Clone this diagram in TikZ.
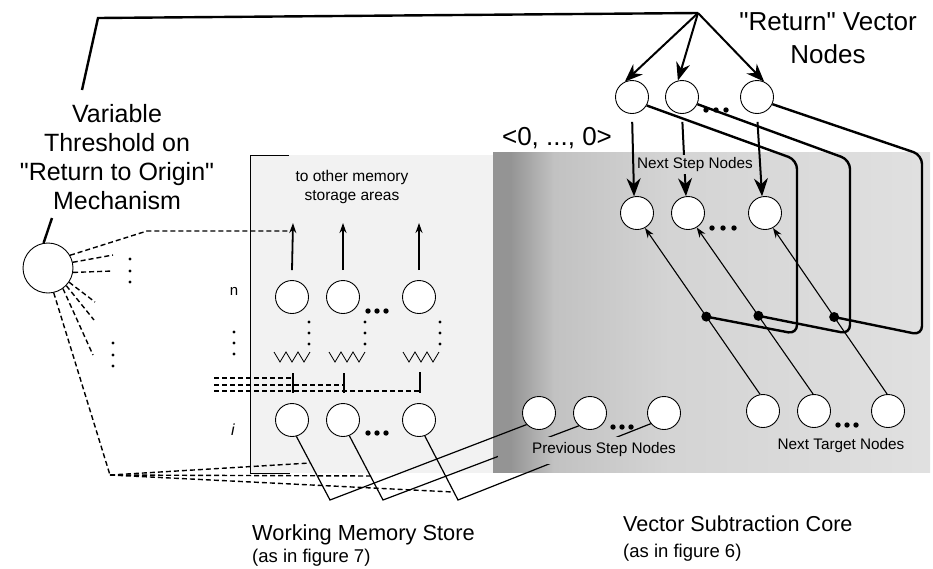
\documentclass[tikz,border=0pt]{standalone}
\usepackage{fontspec}
\setmainfont{Liberation Sans}[Ligatures=TeXOff]
\usetikzlibrary{arrows.meta}
\definecolor{shA}{gray}{0.58}
\definecolor{shB}{gray}{0.76}
\definecolor{shC}{gray}{0.83}
\definecolor{shD}{gray}{0.88}
\pgfdeclarehorizontalshading{core}{100bp}{color(0bp)=(shA); color(25bp)=(shA); color(27bp)=(shA); color(32bp)=(shB); color(45bp)=(shC); color(75bp)=(shD); color(100bp)=(shD)}
\begin{document}
\begin{tikzpicture}[x=1pt,y=-1pt,
  nd/.style={circle,draw,fill=white,line width=0.9pt,minimum size=33pt,inner sep=0pt},
  bigdot/.style={circle,fill=black,minimum size=10pt,inner sep=0pt},
  thickln/.style={line width=2.4pt},
  wire/.style={line width=1.2pt},
  bigarr/.style={line width=2pt,-{Stealth[length=18pt,width=14pt]}},
  uparr/.style={line width=1.8pt,-{Stealth[length=10pt,width=7pt]}},
  thinarr/.style={line width=1.1pt,-{Stealth[length=10pt,width=7pt]}},
  dsh/.style={line width=1.4pt,dash pattern=on 5pt off 3pt},
  lbl/.style={font=\fontsize{15.3}{18}\selectfont,inner sep=0pt},
]
\useasboundingbox (0,0) rectangle (933,568);
\fill[white] (0,0) rectangle (933,568);

% backgrounds
\fill[black!5] (250,155) rectangle (493,473);
\shade[shading=core] (493,152) rectangle (930,472);
\draw[line width=1pt] (289,155) -- (250,155) -- (250,473) -- (290,473);

% nodes
\node[nd,minimum size=50pt] (th) at (48,268) {};
\node[nd] (r1) at (632,97) {};
\node[nd] (r2) at (682,97) {};
\node[nd] (r3) at (757,97) {};
\node[nd] (s1) at (637,213) {};
\node[nd] (s2) at (688,213) {};
\node[nd] (s3) at (765,213) {};
\node[nd] (p1) at (539,413) {};
\node[nd] (p2) at (590,413) {};
\node[nd] (p3) at (664,413) {};
\node[nd] (t1) at (763,411) {};
\node[nd] (t2) at (814,411) {};
\node[nd] (t3) at (888,411) {};
\node[nd] (n1) at (292,297) {};
\node[nd] (n2) at (343,297) {};
\node[nd] (n3) at (419,297) {};
\node[nd] (i1) at (292,420) {};
\node[nd] (i2) at (343,420) {};
\node[nd] (i3) at (419,420) {};

% coordinates
\coordinate (apex) at (698,13);
\coordinate (tl0) at (52,218);
\coordinate (tl1) at (82,90);
\coordinate (tl2) at (98,18);
\path (t1.100) -- (s1.-62) coordinate[pos=0.467] (d1);
\path (t2.93) -- (s2.-59) coordinate[pos=0.47] (d2);
\path (t3.93) -- (s3.-62) coordinate[pos=0.464] (d3);

% top line and arrows
\draw[thickln] (th.100) -- (tl0);
\draw[thickln] (tl1) -- (tl2) -- (apex);
\draw[bigarr] (apex) -- (r1.115);
\draw[bigarr] (apex) -- (r2.104);
\draw[bigarr] (apex) -- (r3.65);
\draw[bigarr,shorten <=8pt] (r1.south) -- (s1.100);
\draw[bigarr,shorten <=8pt] (r2.south) -- (s2.97);
\draw[bigarr,shorten <=8pt] (r3.south) -- (s3.100);

% loops
\draw[thickln,rounded corners=9pt] (r1.-30) -- (797,160) -- (797,334) -- (d1);
\draw[thickln,rounded corners=9pt] (r2.-25) -- (850,160) -- (850,334) -- (d2);
\draw[thickln,rounded corners=9pt] (r3.-25) -- (922,155) -- (922,335) -- (d3);

% target to next step
\draw[thinarr] (t1.100) -- (s1.-62);
\draw[thinarr] (t2.93) -- (s2.-59);
\draw[thinarr] (t3.93) -- (s3.-62);
\node[bigdot] (dd1) at (d1) {};
\node[bigdot] (dd2) at (d2) {};
\node[bigdot] (dd3) at (d3) {};

% memory up arrows
\coordinate (u1) at (293,223);
\coordinate (u2) at (343,223);
\coordinate (u3) at (419,223);
\draw[uparr] ([yshift=10pt]n1.north) -- (u1);
\draw[uparr] ([yshift=10pt]n2.north) -- (u2);
\draw[uparr] ([yshift=10pt]n3.north) -- (u3);

% zigzags
\foreach \x in {274,329,403}{
  \draw[line width=0.8pt] (\x,352) -- ++(6,10) -- ++(6,-10) -- ++(6,10) -- ++(6,-10) -- ++(6,10) -- ++(6,-10);
}
% bars
\draw[line width=1.8pt] (293,373) -- (293,393);
\draw[line width=1.8pt] (344,373) -- (344,393);
\draw[line width=1.8pt] (420,372) -- (420,393);
% dashed rows
\draw[dsh] (214,378) -- (292,378);
\draw[dsh] (214,385) -- (343,385);
\draw[dsh] (214,391) -- (420,391);

% i nodes to previous step nodes
\coordinate (c1) at (330,500);
\coordinate (c2) at (383,500);
\coordinate (c3) at (458,500);
\draw[wire] (i1.-75) -- (c1) -- (p1.-137);
\draw[wire] (i2.-68) -- (c2) -- (p2.-131);
\draw[wire] (i3.-70) -- (c3) -- (p3.-141);

% threshold dashed lines
\coordinate (k) at (110,475);
\coordinate (e0) at (147,231);
\coordinate (ea) at (290,231);
\coordinate (e1) at (310,463);
\coordinate (e2) at (371,476);
\coordinate (e3) at (453,492);
\draw[dsh] (th.30) -- (e0) -- (ea);
\draw[dsh] (th.13) -- (113,255);
\draw[dsh] (th.-10) -- (113,271);
\draw[dsh] (th.-34) -- (95,302);
\draw[dsh] (th.-44) -- (94,320);
\draw[dsh] (th.-54) -- (93,355);
\draw[dsh] (th.-77) -- (k);
\draw[dsh] (k) -- (e1);
\draw[dsh] (k) -- (e2);
\draw[dsh] (k) -- (e3);

% small dots
\foreach \y in {259,271,282} \fill (130,\y) circle (1.6);
\foreach \y in {343,355,366} \fill (113,\y) circle (1.6);
\foreach \y in {332,343,354} \fill (234,\y) circle (1.6);
\foreach \x in {309,365,440}{\foreach \y in {322,333,344} \fill (\x,\y) circle (1.6);}
% ellipsis dots
\foreach \x in {368,377,386} {\fill (\x,311) circle (2.7); \fill (\x,433) circle (2.7);}
\foreach \x in {706,716,726} \fill (\x,110) circle (2.7);
\foreach \x in {712,723,734} \fill (\x,228) circle (2.7);
\foreach \x in {613,622,631} \fill (\x,427) circle (2.7);
\foreach \x in {838,847,856} \fill (\x,425) circle (2.7);

% label backgrounds (cut the lines)
\begin{scope}
\clip (498,437) rectangle (681,463);
\shade[shading=core] (493,152) rectangle (930,472);
\end{scope}
\begin{scope}
\clip (636,155) rectangle (755,173);
\shade[shading=core] (493,152) rectangle (930,472);
\end{scope}

% labels
\node[align=center,font=\fontsize{25}{29}\selectfont,inner sep=0pt] (lab1) at (117,157) {Variable\\Threshold on\\"Return to Origin"\\Mechanism};
\node[align=center,font=\fontsize{26}{33}\selectfont,inner sep=0pt] (lab2) at (828,38) {"Return" Vector\\Nodes};
\node[font=\fontsize{26}{30}\selectfont,inner sep=0pt] (lab3) at (557,138) {<0, ..., 0>};
\node[align=center,font=\fontsize{15.5}{19}\selectfont,inner sep=0pt] (lab4) at (352,187) {to other memory\\storage areas};
\node[font=\fontsize{15}{18}\selectfont,inner sep=0pt] (lab5) at (234,291) {n};
\node[font=\fontsize{16}{18}\selectfont\itshape,inner sep=0pt] (lab6) at (233,430) {i};
\node[lbl] (lab7) at (695,165) {Next Step Nodes};
\node[lbl] (lab8) at (604,450) {Previous Step Nodes};
\node[lbl] (lab9) at (841,446) {Next Target Nodes};
\node[font=\fontsize{21.8}{26}\selectfont,inner sep=0pt,anchor=west] (lab10) at (252,535) {Working Memory Store};
\node[font=\fontsize{18.5}{22}\selectfont,inner sep=0pt,anchor=west] (lab11) at (252,558) {(as in figure 7)};
\node[font=\fontsize{21.6}{26}\selectfont,inner sep=0pt,anchor=west] (lab12) at (623,524) {Vector Subtraction Core};
\node[font=\fontsize{18.5}{22}\selectfont,inner sep=0pt,anchor=west] (lab13) at (623,553) {(as in figure 6)};
\end{tikzpicture}
\end{document}
